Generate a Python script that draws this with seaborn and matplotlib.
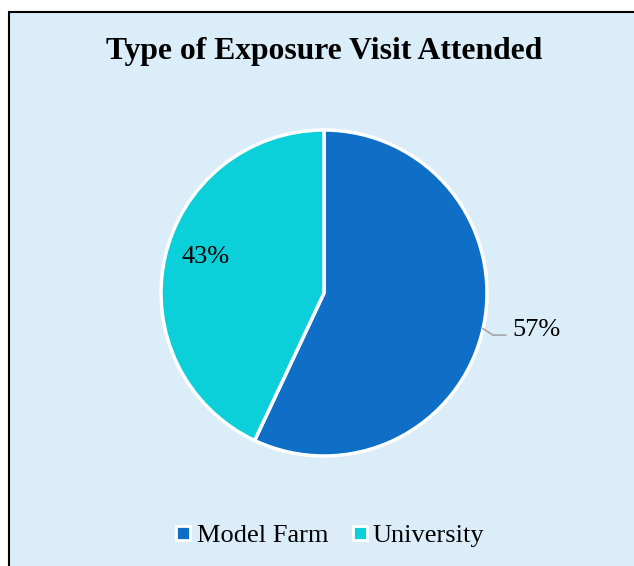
import matplotlib
matplotlib.use("Agg")
import matplotlib.pyplot as plt
import seaborn as sns
import numpy as np
from matplotlib.patches import Rectangle
from matplotlib.lines import Line2D

categories = ["Model Farm", "University"]
shares = [57, 43]
colors = ["#0F6FC6", "#0BD0D9"]

sns.set_style("white")
plt.rcParams['font.family'] = ['Liberation Serif', 'DejaVu Serif']
plt.rcParams['text.color'] = 'black'

W, H = 634, 566
fig = plt.figure(figsize=(W / 100, H / 100), dpi=100)
fig.patch.set_facecolor("white")

# chart area box (cut off on right and bottom)
fig.patches.append(Rectangle((9 / W, -0.05), 1.0, (H - 12) / H + 0.05,
                             transform=fig.transFigure, facecolor="#DAEDF8",
                             edgecolor="black", linewidth=1.5, zorder=-5))

cx, cy, r = 324, 293, 163
half = 200
ax = fig.add_axes([(cx - half) / W, (H - cy - half) / H, 2 * half / W, 2 * half / H])
ax.set_facecolor("none")
lim = half / r
ax.axis("off")

wedges, _ = ax.pie(shares, colors=colors, startangle=90, counterclock=False,
                   radius=1, wedgeprops=dict(edgecolor="white", linewidth=2.5))
ax.set_xlim(-lim, lim)
ax.set_ylim(-lim, lim)

for w, s in zip(wedges, shares):
    mid = np.deg2rad((w.theta1 + w.theta2) / 2)
    x, y = np.cos(mid), np.sin(mid)
    if s == 57:
        ax.plot([x, x + 0.06, x + 0.14], [y, y - 0.04, y - 0.04],
                color="#A6A6A6", lw=1.2)
        ax.text(x + 0.18, y - 0.01, f"{s}%", fontsize=19, va="center", ha="left")
    else:
        ax.text(0.76 * np.cos(np.deg2rad(163)), 0.76 * np.sin(np.deg2rad(163)),
                f"{s}%", fontsize=19, va="center", ha="center")

fig.text(324.5 / W, 1 - 52 / H, "Type of Exposure Visit Attended",
         fontsize=22.8, fontweight="bold", ha="center", va="center")

handles = [Line2D([], [], marker="s", linestyle="none", markersize=10,
                  markerfacecolor=c, markeredgecolor="white", markeredgewidth=2)
           for c in colors]
fig.legend(handles, categories, loc="center", bbox_to_anchor=(330 / W, 1 - 535 / H),
           ncol=2, frameon=False, fontsize=19, handlelength=0.6,
           handletextpad=0.2, columnspacing=0.9)

fig.savefig("out.png", dpi=100)
